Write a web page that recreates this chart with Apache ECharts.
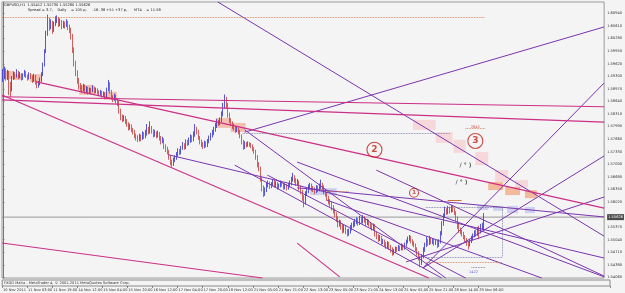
<!DOCTYPE html>
<html><head><meta charset="utf-8">
<script src="https://cdn.jsdelivr.net/npm/echarts@6/dist/echarts.min.js"></script>
<style>html,body{margin:0;padding:0;background:#f4f4f4}#c{width:625px;height:293px}</style>
</head><body><div id="c"></div><script>
// ---------- DATA ----------
const tickLabels = ["10 Nov 2011","11 Nov 03:00","11 Nov 19:00","14 Nov 12:00","15 Nov 04:00","15 Nov 20:00","16 Nov 12:00","17 Nov 04:00","17 Nov 20:00","18 Nov 12:00","21 Nov 05:00","21 Nov 21:00","22 Nov 13:00","23 Nov 05:00","23 Nov 21:00","24 Nov 13:00","25 Nov 05:00","25 Nov 21:00","28 Nov 14:00","29 Nov 06:00"];
const priceTicks = [1.6094,1.6061,1.6028,1.5995,1.5962,1.5930,1.5897,1.5864,1.5831,1.5799,1.5766,1.5733,1.5700,1.5668,1.5635,1.5602,1.5537,1.5504,1.5471,1.5438,1.5406];
const currentPrice = 1.55626;
const firstOpen = 1.5925;
const closes = [
1.5930,1.5945,1.5925,1.5940,1.5910,1.5895,1.5925,1.5935,1.5930,1.5940,
1.5928,1.5935,1.5925,1.5932,1.5940,1.5930,1.5925,1.5935,1.5928,1.5920,
1.5930,1.5915,1.5905,1.5912,1.5920,1.5935,1.5960,1.5995,1.6040,1.6075,
1.6060,1.6070,1.6050,1.6065,1.6075,1.6080,1.6065,1.6072,1.6060,1.6068,
1.6062,1.6070,1.6058,1.6050,1.6035,1.6000,1.5965,1.5940,1.5920,1.5905,
1.5900,1.5895,1.5905,1.5890,1.5898,1.5888,1.5895,1.5892,1.5900,1.5890,
1.5895,1.5888,1.5885,1.5888,1.5880,1.5885,1.5878,1.5895,1.5910,1.5890,
1.5875,1.5870,1.5878,1.5865,1.5862,1.5840,1.5825,1.5818,1.5822,1.5812,
1.5805,1.5795,1.5800,1.5790,1.5785,1.5775,1.5770,1.5765,1.5772,1.5768,
1.5778,1.5772,1.5780,1.5790,1.5785,1.5795,1.5788,1.5778,1.5782,1.5775,
1.5780,1.5770,1.5760,1.5765,1.5748,1.5740,1.5735,1.5720,1.5705,1.5700,
1.5712,1.5718,1.5725,1.5735,1.5730,1.5742,1.5750,1.5745,1.5758,1.5755,
1.5762,1.5770,1.5765,1.5778,1.5790,1.5785,1.5770,1.5760,1.5752,1.5748,
1.5755,1.5750,1.5760,1.5768,1.5775,1.5782,1.5790,1.5800,1.5810,1.5808,
1.5815,1.5830,1.5850,1.5870,1.5855,1.5830,1.5815,1.5808,1.5800,1.5795,
1.5790,1.5793,1.5785,1.5775,1.5760,1.5745,1.5755,1.5750,1.5755,1.5752,
1.5748,1.5740,1.5735,1.5720,1.5700,1.5690,1.5665,1.5640,1.5625,1.5632,
1.5645,1.5650,1.5642,1.5648,1.5655,1.5645,1.5650,1.5640,1.5645,1.5652,
1.5648,1.5640,1.5645,1.5638,1.5645,1.5650,1.5660,1.5668,1.5660,1.5650,
1.5655,1.5640,1.5630,1.5615,1.5600,1.5625,1.5630,1.5640,1.5645,1.5638,
1.5635,1.5630,1.5640,1.5635,1.5642,1.5648,1.5640,1.5630,1.5625,1.5612,
1.5605,1.5598,1.5590,1.5580,1.5570,1.5560,1.5545,1.5550,1.5540,1.5530,
1.5535,1.5528,1.5520,1.5525,1.5535,1.5540,1.5545,1.5550,1.5555,1.5548,
1.5558,1.5552,1.5560,1.5555,1.5548,1.5552,1.5545,1.5540,1.5535,1.5540,
1.5520,1.5512,1.5505,1.5510,1.5498,1.5500,1.5492,1.5488,1.5495,1.5485,
1.5480,1.5468,1.5475,1.5480,1.5478,1.5485,1.5480,1.5488,1.5482,1.5490,
1.5498,1.5505,1.5510,1.5500,1.5495,1.5490,1.5480,1.5470,1.5458,1.5445,
1.5460,1.5478,1.5490,1.5500,1.5495,1.5505,1.5498,1.5502,1.5495,1.5500,
1.5490,1.5498,1.5520,1.5545,1.5565,1.5580,1.5575,1.5585,1.5578,1.5588,
1.5582,1.5575,1.5560,1.5540,1.5530,1.5525,1.5520,1.5512,1.5505,1.5495,
1.5490,1.5500,1.5508,1.5515,1.5522,1.5518,1.5530,1.5525,1.5538,1.5541,
1.55626];
const highs = [
1.5948,1.5955,1.5950,1.5946,1.5944,1.5915,1.5930,1.5942,1.5940,1.5948,
1.5944,1.5941,1.5938,1.5937,1.5946,1.5943,1.5934,1.5940,1.5938,1.5932,
1.5936,1.5933,1.5918,1.5917,1.5926,1.5940,1.5965,1.6000,1.6048,1.6090,
1.6082,1.6078,1.6074,1.6072,1.6086,1.6088,1.6084,1.6080,1.6076,1.6074,
1.6072,1.6078,1.6074,1.6064,1.6056,1.6040,1.6005,1.5970,1.5945,1.5925,
1.5912,1.5906,1.5910,1.5908,1.5904,1.5902,1.5900,1.5899,1.5906,1.5903,
1.5900,1.5898,1.5893,1.5894,1.5892,1.5890,1.5888,1.5900,1.5920,1.5914,
1.5894,1.5880,1.5884,1.5882,1.5870,1.5866,1.5845,1.5830,1.5828,1.5826,
1.5818,1.5810,1.5806,1.5804,1.5795,1.5790,1.5780,1.5776,1.5780,1.5778,
1.5786,1.5784,1.5790,1.5805,1.5798,1.5812,1.5800,1.5792,1.5790,1.5786,
1.5788,1.5784,1.5774,1.5772,1.5768,1.5752,1.5746,1.5738,1.5724,1.5712,
1.5718,1.5724,1.5732,1.5742,1.5740,1.5748,1.5758,1.5755,1.5765,1.5764,
1.5770,1.5778,1.5776,1.5786,1.5805,1.5798,1.5790,1.5774,1.5765,1.5758,
1.5762,1.5760,1.5766,1.5775,1.5782,1.5790,1.5798,1.5808,1.5818,1.5816,
1.5822,1.5838,1.5860,1.5882,1.5876,1.5860,1.5835,1.5820,1.5812,1.5806,
1.5800,1.5798,1.5796,1.5790,1.5778,1.5764,1.5760,1.5758,1.5760,1.5758,
1.5756,1.5752,1.5745,1.5738,1.5724,1.5706,1.5694,1.5668,1.5645,1.5640,
1.5652,1.5658,1.5655,1.5654,1.5662,1.5660,1.5656,1.5654,1.5650,1.5658,
1.5656,1.5652,1.5650,1.5648,1.5652,1.5658,1.5668,1.5678,1.5672,1.5664,
1.5662,1.5658,1.5645,1.5634,1.5620,1.5630,1.5638,1.5648,1.5652,1.5650,
1.5644,1.5640,1.5646,1.5645,1.5650,1.5660,1.5652,1.5645,1.5635,1.5628,
1.5618,1.5610,1.5602,1.5594,1.5585,1.5575,1.5565,1.5556,1.5554,1.5545,
1.5542,1.5540,1.5532,1.5532,1.5542,1.5548,1.5552,1.5558,1.5562,1.5560,
1.5566,1.5563,1.5568,1.5565,1.5560,1.5558,1.5556,1.5550,1.5545,1.5546,
1.5544,1.5525,1.5518,1.5516,1.5514,1.5506,1.5504,1.5498,1.5500,1.5498,
1.5490,1.5484,1.5480,1.5486,1.5485,1.5490,1.5488,1.5494,1.5492,1.5496,
1.5504,1.5512,1.5516,1.5514,1.5505,1.5500,1.5494,1.5484,1.5474,1.5462,
1.5466,1.5484,1.5496,1.5512,1.5506,1.5514,1.5510,1.5508,1.5506,1.5506,
1.5504,1.5505,1.5526,1.5552,1.5572,1.5590,1.5586,1.5592,1.5590,1.5594,
1.5592,1.5586,1.5578,1.5564,1.5545,1.5535,1.5530,1.5524,1.5516,1.5508,
1.5500,1.5506,1.5514,1.5520,1.5528,1.5530,1.5536,1.5540,1.5545,1.5548,
1.5573];
const lows = [
1.5915,1.5922,1.5918,1.5920,1.5880,1.5875,1.5890,1.5920,1.5922,1.5926,
1.5922,1.5924,1.5918,1.5920,1.5928,1.5925,1.5918,1.5921,1.5922,1.5912,
1.5915,1.5908,1.5898,1.5900,1.5906,1.5915,1.5930,1.5955,1.5990,1.6035,
1.6048,1.6052,1.6040,1.6045,1.6060,1.6068,1.6058,1.6060,1.6052,1.6055,
1.6054,1.6058,1.6050,1.6042,1.6025,1.5990,1.5955,1.5930,1.5910,1.5895,
1.5892,1.5886,1.5890,1.5884,1.5885,1.5882,1.5883,1.5885,1.5888,1.5884,
1.5885,1.5882,1.5878,1.5879,1.5874,1.5875,1.5870,1.5875,1.5890,1.5884,
1.5868,1.5862,1.5865,1.5858,1.5852,1.5832,1.5815,1.5810,1.5812,1.5805,
1.5798,1.5788,1.5790,1.5784,1.5778,1.5768,1.5762,1.5758,1.5760,1.5760,
1.5764,1.5766,1.5768,1.5775,1.5778,1.5780,1.5780,1.5770,1.5772,1.5768,
1.5770,1.5762,1.5752,1.5755,1.5740,1.5732,1.5726,1.5712,1.5698,1.5692,
1.5696,1.5706,1.5712,1.5720,1.5724,1.5726,1.5738,1.5738,1.5740,1.5748,
1.5750,1.5756,1.5758,1.5760,1.5772,1.5778,1.5764,1.5752,1.5745,1.5740,
1.5742,1.5744,1.5745,1.5755,1.5762,1.5770,1.5776,1.5785,1.5795,1.5800,
1.5802,1.5810,1.5825,1.5845,1.5845,1.5822,1.5808,1.5800,1.5792,1.5788,
1.5782,1.5784,1.5778,1.5768,1.5752,1.5738,1.5740,1.5744,1.5746,1.5746,
1.5742,1.5734,1.5728,1.5712,1.5692,1.5682,1.5655,1.5630,1.5615,1.5618,
1.5628,1.5640,1.5636,1.5638,1.5643,1.5640,1.5640,1.5634,1.5636,1.5640,
1.5642,1.5634,1.5635,1.5632,1.5634,1.5640,1.5645,1.5655,1.5652,1.5644,
1.5645,1.5632,1.5622,1.5605,1.5588,1.5595,1.5618,1.5625,1.5634,1.5630,
1.5628,1.5622,1.5625,1.5628,1.5630,1.5636,1.5634,1.5622,1.5616,1.5605,
1.5596,1.5590,1.5580,1.5572,1.5562,1.5550,1.5536,1.5538,1.5530,1.5520,
1.5522,1.5518,1.5512,1.5514,1.5520,1.5528,1.5535,1.5538,1.5544,1.5540,
1.5542,1.5545,1.5546,1.5548,1.5540,1.5542,1.5538,1.5532,1.5528,1.5528,
1.5512,1.5505,1.5498,1.5500,1.5490,1.5492,1.5486,1.5480,1.5482,1.5478,
1.5470,1.5462,1.5464,1.5470,1.5472,1.5474,1.5474,1.5476,1.5476,1.5478,
1.5486,1.5494,1.5500,1.5494,1.5488,1.5484,1.5474,1.5462,1.5450,1.5432,
1.5438,1.5455,1.5472,1.5485,1.5488,1.5490,1.5492,1.5492,1.5488,1.5490,
1.5482,1.5485,1.5494,1.5515,1.5540,1.5560,1.5568,1.5570,1.5572,1.5574,
1.5576,1.5568,1.5552,1.5532,1.5522,1.5518,1.5512,1.5505,1.5498,1.5488,
1.5478,1.5486,1.5495,1.5502,1.5510,1.5512,1.5514,1.5505,1.5520,1.5530,
1.5528];
const slotCount = 388;
const xSpan = [-0.5, 387.5];
// trendlines [barIdx0, price0, barIdx1, price1]
const purpleLines = [
 [138.6,1.6123,387.5,1.5513],
 [155.9,1.5784,387.5,1.6058],
 [155.9,1.5790,285.4,1.5404],
 [106.7,1.5725,387.5,1.5456],
 [189.7,1.5706,387.5,1.5407],
 [189.7,1.5639,387.5,1.5563],
 [270.7,1.5430,387.5,1.5912],
 [259.9,1.5446,387.5,1.5615],
 [270.7,1.5430,387.5,1.5722],
 [149.5,1.5698,282.8,1.5404],
 [170.5,1.5672,298.2,1.5404],
 [208.8,1.5607,347.3,1.5404],
 [240.7,1.5685,387.5,1.5409]
];
const magentaLines = [
 [-0.5,1.5876,387.5,1.5850],
 [-0.5,1.5868,387.5,1.5810],
 [-0.5,1.5881,274.5,1.5404],
 [-0.5,1.5495,167.3,1.5404],
 [21.8,1.5915,387.5,1.5586],
 [189.7,1.5495,217.1,1.5407]
];
const orangeDotted = [[-0.5,1.6084,310.9,1.6084],[208.8,1.5631,222.9,1.5631],[272.6,1.5446,321.8,1.5446],[298.2,1.5794,310.9,1.5794]];
const grayDotted = [[154.6,1.5782,288.6,1.5782],[272.6,1.5589,321.8,1.5589],[273.9,1.5459,321.8,1.5459],[321.8,1.5589,321.8,1.5459],[302,1.5433,311,1.5433]];
const orangeSegments = [[286.7,1.5607,295.6,1.5607]];
// zones [barIdx0, price0, barIdx1, price1]
const salmonZones = [[-0.5,1.5943,7.2,1.5922],[7.2,1.5935,12.3,1.5920],[17.4,1.5935,25.0,1.5915],[49.3,1.5907,58.8,1.5881],[65.2,1.5889,73.5,1.5868],[137.3,1.5821,146.9,1.5795],[146.9,1.5808,156.5,1.5784]];
const pinkZones = [[264.3,1.5816,279.0,1.5790],[279.0,1.5784,289.9,1.5756],[290.5,1.5764,298.2,1.5730],[304.5,1.5732,312.8,1.5698],[317.3,1.5685,325.6,1.5654],[330.1,1.5659,338.4,1.5638]];
const orangeZones = [[312.8,1.5654,322.4,1.5633],[323.7,1.5641,333.3,1.5620],[336.5,1.5633,344.1,1.5612]];
const lavenderZones = [[198.0,1.5638,215.2,1.5620],[305.8,1.5594,312.8,1.5581],[316.0,1.5592,322.4,1.5579],[325.0,1.5592,332.0,1.5573],[336.5,1.5589,342.9,1.5573]];
const waveLabels = [["1",265,1.5626],["2",239.5,1.5738],["3",304.5,1.5761]];
const smallNotes = [["2645",304.5,1.5797],["1422",303.3,1.5420]];
const scribbles = [[298.2,1.5698],[295.6,1.5654]];
const headerLine1 = "GBPUSD,H1  1.55412 1.55730 1.55280 1.55626";
const headerLine2 = "Spread = 3.7,    Daily    = 105 p,     -16 -38 +51 +37 p,      MT4    = 11:58";
const footerText = "FXDD Malta - MetaTrader 4, © 2001-2011 MetaQuotes Software Corp.";

// ---------- BUILD ----------
const cats = [];
for (let i = 0; i < slotCount; i++) cats.push(String(i));
const candles = closes.map((c, i) => {
  const o = i === 0 ? firstOpen : closes[i - 1];
  return [o, c, lows[i], highs[i]];
});
const PURPLE = '#7b35b0', MAGENTA = '#cc2f86';
function seg(arr, color, type, width) {
  return arr.map(a => [{coord: [a[0], a[1]], lineStyle: {color, type, width}}, {coord: [a[2], a[3]]}]);
}
function zones(arr, color) {
  return arr.map(a => [{coord: [a[0], a[1]], itemStyle: {color}}, {coord: [a[2], a[3]]}]);
}
const isTick = (i) => i % 16 === 0 && i / 16 < tickLabels.length;
const clear = 'rgba(0,0,0,0)';

const chart = echarts.init(document.getElementById('c'), null, {renderer: 'canvas'});
chart.setOption({
  animation: false,
  backgroundColor: '#f4f4f4',
  textStyle: {fontFamily: 'DejaVu Sans'},
  grid: [
    {left: 2, top: 2, width: 608, height: 276, show: true, borderColor: '#9a9a9a', borderWidth: 1, backgroundColor: '#f4f4f4'},
    {left: 2, top: 280, width: 608, height: 6, show: true, borderColor: '#8a8a8a', borderWidth: 1, backgroundColor: '#f4f4f4'}
  ],
  xAxis: [
    {type: 'category', gridIndex: 0, data: cats, axisLabel: {show: false}, axisTick: {show: false}, axisLine: {show: false}, splitLine: {show: false}},
    {type: 'value', gridIndex: 0, min: xSpan[0], max: xSpan[1], show: false},
    {type: 'category', gridIndex: 1, data: cats, position: 'bottom',
     axisLine: {show: false},
     axisTick: {show: true, interval: isTick, length: 2, lineStyle: {color: '#444', width: 0.6}},
     axisLabel: {show: true, interval: isTick, align: 'left', margin: 2, fontSize: 3.6, color: '#333',
       formatter: (v, i) => tickLabels[i / 16] || ''}}
  ],
  yAxis: [
    {type: 'value', gridIndex: 0, min: 1.5404, max: 1.6123, position: 'right',
     splitLine: {show: false},
     axisLine: {show: true, lineStyle: {color: '#777', width: 1}},
     axisTick: {show: true, customValues: priceTicks, length: 2, lineStyle: {color: '#777', width: 0.6}},
     axisLabel: {show: true, customValues: priceTicks, fontSize: 3.6, color: '#333', margin: 3,
       formatter: v => v.toFixed(5)}},
    {type: 'value', gridIndex: 1, show: false}
  ],
  series: [
    {type: 'line', xAxisIndex: 1, yAxisIndex: 0, data: [[0, 1.58]], symbol: 'none', lineStyle: {opacity: 0}, silent: true, z: 1,
     markArea: {silent: true, data: [].concat(
       zones(salmonZones, 'rgba(240,150,120,0.55)'),
       zones(pinkZones, 'rgba(248,196,200,0.6)'),
       zones(orangeZones, 'rgba(242,160,120,0.7)'),
       zones(lavenderZones, 'rgba(180,185,235,0.6)'))}
    },
    {type: 'line', xAxisIndex: 1, yAxisIndex: 0, z: 2, silent: true, symbol: 'none',
     data: [[xSpan[0], currentPrice], [xSpan[1], currentPrice]],
     lineStyle: {color: '#8e8e8e', width: 0.9},
     endLabel: {show: true, formatter: () => currentPrice.toFixed(5), fontSize: 3.6, color: '#fff', backgroundColor: '#4a4a4a', padding: [1, 1], distance: 3}
    },
    {type: 'candlestick', xAxisIndex: 0, yAxisIndex: 0, data: candles, barMaxWidth: 1.2, z: 3,
     itemStyle: {color: '#2f2fd0', color0: '#c83a3a', borderColor: '#2f2fd0', borderColor0: '#c83a3a', borderWidth: 0.8}},
    {type: 'line', xAxisIndex: 1, yAxisIndex: 0, data: [[0, 1.58]], symbol: 'none', lineStyle: {opacity: 0}, silent: true, z: 4,
     markLine: {silent: true, symbol: ['none', 'none'], label: {show: false}, animation: false,
       data: [].concat(
         seg(purpleLines, PURPLE, 'solid', 1),
         seg(magentaLines, MAGENTA, 'solid', 1.1),
         seg(orangeDotted, '#d0703a', 'dotted', 0.8),
         seg(grayDotted, '#6a6a9a', 'dotted', 0.8),
         seg(orangeSegments, '#c87040', 'solid', 1)
       )}
    },
    {type: 'scatter', xAxisIndex: 1, yAxisIndex: 0, z: 6, symbol: 'circle',
     data: waveLabels.map(w => ({value: [w[1], w[2]], name: w[0], symbolSize: w[0] === '1' ? 9 : 15,
       label: {fontSize: w[0] === '1' ? 6 : 9}})),
     itemStyle: {color: clear, borderColor: '#c0201a', borderWidth: 1.1},
     label: {show: true, position: 'inside', formatter: p => p.name, color: '#c0201a', fontWeight: 'bold'}
    },
    {type: 'scatter', xAxisIndex: 1, yAxisIndex: 0, z: 6, symbol: 'circle', symbolSize: 2, silent: true,
     itemStyle: {color: clear, borderWidth: 0},
     data: smallNotes.map((n, i) => ({value: [n[1], n[2]], name: n[0],
       label: {color: i === 0 ? '#c0302a' : '#3a3ac0'}})),
     label: {show: true, position: 'inside', formatter: p => p.name, fontSize: 3.6}
    },
    {type: 'scatter', xAxisIndex: 1, yAxisIndex: 0, z: 6, symbol: 'circle', symbolSize: 2, silent: true,
     itemStyle: {color: clear, borderWidth: 0},
     data: scribbles.map(s => ({value: s})),
     label: {show: true, position: 'inside', formatter: '/ \u00b0 )', fontSize: 6, color: '#333', fontWeight: 'bold'}
    }
  ],
  graphic: [
    {type: 'text', left: 4, top: 3, style: {text: headerLine1, fontSize: 3.6, fill: '#222', fontFamily: 'DejaVu Sans'}},
    {type: 'text', left: 28, top: 8, style: {text: headerLine2, fontSize: 3.6, fill: '#222', fontFamily: 'DejaVu Sans'}},
    {type: 'text', left: 4, top: 281, style: {text: footerText, fontSize: 3.6, fill: '#333', fontFamily: 'DejaVu Sans'}}
  ]
});
</script></body></html>
